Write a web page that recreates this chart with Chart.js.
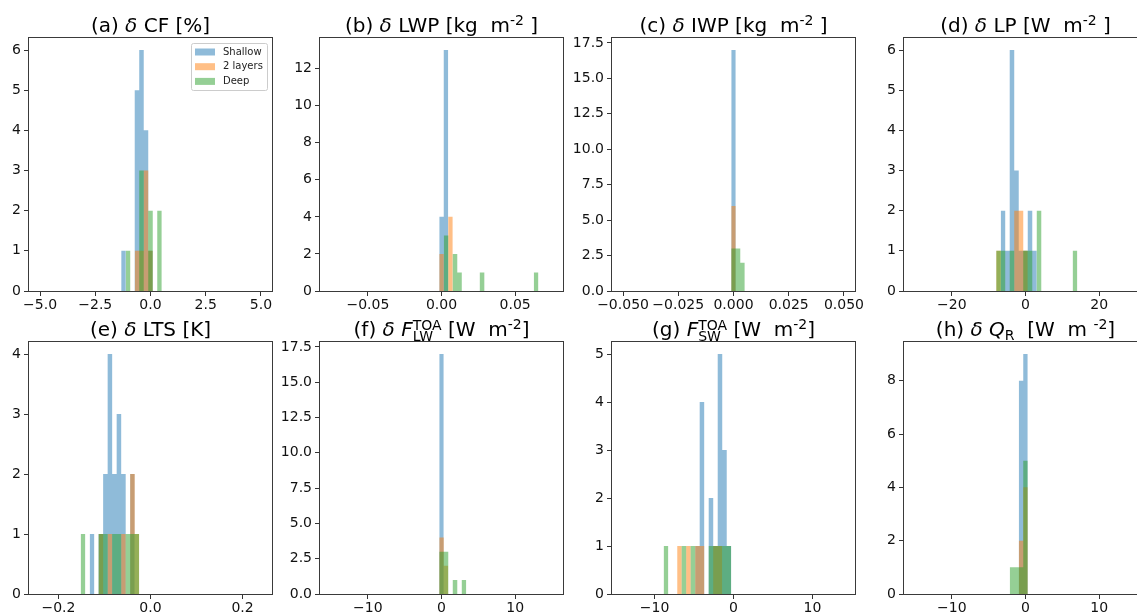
<!DOCTYPE html>
<html>
<head>
<meta charset="utf-8">
<script src="https://cdn.jsdelivr.net/npm/chart.js@4.4.1/dist/chart.umd.min.js"></script>
<style>
html, body { margin: 0; padding: 0; background: #fff; overflow: hidden; }
body { width: 1137px; height: 615px; position: relative; }
canvas { position: absolute; }
</style>
</head>
<body>
<script>
const seriesNames = ['Shallow', '2 layers', 'Deep'];

// (a) dCF, bin left edges + counts
const cfBinWidth = 0.204;
const cfShallowLefts = [-1.327, -0.714, -0.510, -0.306, -0.102];
const cfShallowCounts = [1, 5, 6, 4, 1];
const cfTwoLayerLefts = [-0.714, -0.510, -0.306, -0.102];
const cfTwoLayerCounts = [1, 1, 3, 1];
const cfDeepLefts = [-1.122, -0.510, -0.102, 0.306];
const cfDeepCounts = [1, 3, 2, 2];
const cfTicks = [-5, -2.5, 0, 2.5, 5];
const cfTickLabels = ['−5.0', '−2.5', '0.0', '2.5', '5.0'];

// (b) dLWP
const lwpBinWidth = 0.00306;
const lwpShallowLefts = [-0.00153, 0.00153];
const lwpShallowCounts = [4, 13];
const lwpTwoLayerLefts = [-0.00153, 0.00459];
const lwpTwoLayerCounts = [2, 4];
const lwpDeepLefts = [0.00153, 0.00765, 0.01071, 0.02602, 0.06276];
const lwpDeepCounts = [3, 2, 1, 1, 1];
const lwpTicks = [-0.05, 0, 0.05];
const lwpTickLabels = ['−0.05', '0.00', '0.05'];

// (c) dIWP
const iwpBinWidth = 0.00204;
const iwpShallowLefts = [-0.00102];
const iwpShallowCounts = [17];
const iwpTwoLayerLefts = [-0.00102];
const iwpTwoLayerCounts = [6];
const iwpDeepLefts = [-0.00102, 0.00102, 0.00306];
const iwpDeepCounts = [3, 3, 2];
const iwpTicks = [-0.05, -0.025, 0, 0.025, 0.05];
const iwpTickLabels = ['−0.050', '−0.025', '0.000', '0.025', '0.050'];

// (d) dLP
const lpBinWidth = 1.2245;
const lpShallowLefts = [-6.735, -5.510, -4.286, -3.061, -1.837, -0.612, 0.612, 1.837];
const lpShallowCounts = [2, 1, 6, 3, 1, 1, 2, 1];
const lpTwoLayerLefts = [-7.959, -3.061, -1.837, -0.612];
const lpTwoLayerCounts = [1, 2, 2, 1];
const lpDeepLefts = [-7.959, -6.735, -4.286, -0.612, 0.612, 3.061, 12.857];
const lpDeepCounts = [1, 1, 1, 1, 1, 2, 1];
const lpTicks = [-20, 0, 20];
const lpTickLabels = ['−20', '0', '20'];

// (e) dLTS
const ltsBinWidth = 0.0098;
const ltsShallowLefts = [-0.1322, -0.1127, -0.1029, -0.0931, -0.0833, -0.0735, -0.0637, -0.0441];
const ltsShallowCounts = [1, 1, 2, 4, 2, 3, 2, 2];
const ltsTwoLayerLefts = [-0.1127, -0.0931, -0.0637, -0.0441, -0.0343];
const ltsTwoLayerCounts = [1, 1, 1, 2, 1];
const ltsDeepLefts = [-0.1518, -0.1127, -0.1029, -0.0833, -0.0735, -0.0539, -0.0441, -0.0343];
const ltsDeepCounts = [1, 1, 1, 1, 1, 1, 1, 1];
const ltsTicks = [-0.2, 0, 0.2];
const ltsTickLabels = ['−0.2', '0.0', '0.2'];

// (f) dF_LW TOA
const lwBinWidth = 0.612;
const lwShallowLefts = [-0.306];
const lwShallowCounts = [17];
const lwTwoLayerLefts = [-0.306, 0.306];
const lwTwoLayerCounts = [4, 2];
const lwDeepLefts = [-0.306, 0.306, 1.531, 2.755];
const lwDeepCounts = [3, 3, 1, 1];
const lwTicks = [-10, 0, 10];
const lwTickLabels = ['−10', '0', '10'];

// (g) F_SW TOA
const swBinWidth = 0.5714;
const swShallowLefts = [-4.857, -4.286, -3.143, -2.571, -2.0, -1.429, -0.857];
const swShallowCounts = [1, 4, 2, 1, 5, 3, 1];
const swTwoLayerLefts = [-7.143, -6.0, -4.857, -4.286, -2.571, -2.0];
const swTwoLayerCounts = [1, 1, 1, 1, 1, 1];
const swDeepLefts = [-8.857, -6.571, -5.429, -3.143, -2.571, -2.0, -1.429, -0.857];
const swDeepCounts = [1, 1, 1, 1, 1, 1, 1, 1];
const swTicks = [-10, 0, 10];
const swTickLabels = ['−10', '0', '10'];

// (h) dQ_R
const qrBinWidth = 0.612;
const qrShallowLefts = [-0.918, -0.306];
const qrShallowCounts = [8, 9];
const qrTwoLayerLefts = [-0.918, -0.306];
const qrTwoLayerCounts = [2, 4];
const qrDeepLefts = [-2.143, -1.531, -0.918, -0.306];
const qrDeepCounts = [1, 1, 1, 5];
const qrTicks = [-10, 0, 10];
const qrTickLabels = ['−10', '0', '10'];

// count axes
const countTicks4 = [0, 1, 2, 3, 4];
const countTicks5 = [0, 1, 2, 3, 4, 5];
const countTicks6 = [0, 1, 2, 3, 4, 5, 6];
const countTicks8 = [0, 2, 4, 6, 8];
const countTicks12 = [0, 2, 4, 6, 8, 10, 12];
const countTicks17 = [0, 2.5, 5, 7.5, 10, 12.5, 15, 17.5];
const countLabels17 = ['0.0', '2.5', '5.0', '7.5', '10.0', '12.5', '15.0', '17.5'];

const seriesColors = ['rgba(31,119,180,0.5)', 'rgba(255,127,14,0.5)', 'rgba(44,160,44,0.5)'];
const FONT = '"DejaVu Sans"';
const colLefts = [29, 320, 612, 904];
const rowTops = [38, 342];
const rowHeights = [253, 252];
const plotWidth = 243;
const yAxisW = 50, xAxisH = 25, padTop = 38, padRight = 20, padBottom = 2;

const panels = [
  { row: 0, col: 0, legend: true,
    title: [['n', '(a) '], ['i', 'δ'], ['n', ' CF [%]']],
    width: cfBinWidth, lefts: [cfShallowLefts, cfTwoLayerLefts, cfDeepLefts], counts: [cfShallowCounts, cfTwoLayerCounts, cfDeepCounts],
    xMin: -5.5, xMax: 5.5, xTicks: cfTicks, xLabels: cfTickLabels, yMax: 6.3, yTicks: countTicks6 },
  { row: 0, col: 1,
    title: [['n', '(b) '], ['i', 'δ'], ['n', ' LWP [kg  m'], ['sup', '-2'], ['n', ' ]']],
    width: lwpBinWidth, lefts: [lwpShallowLefts, lwpTwoLayerLefts, lwpDeepLefts], counts: [lwpShallowCounts, lwpTwoLayerCounts, lwpDeepCounts],
    xMin: -0.0825, xMax: 0.0825, xTicks: lwpTicks, xLabels: lwpTickLabels, yMax: 13.65, yTicks: countTicks12 },
  { row: 0, col: 2,
    title: [['n', '(c) '], ['i', 'δ'], ['n', ' IWP [kg  m'], ['sup', '-2'], ['n', ' ]']],
    width: iwpBinWidth, lefts: [iwpShallowLefts, iwpTwoLayerLefts, iwpDeepLefts], counts: [iwpShallowCounts, iwpTwoLayerCounts, iwpDeepCounts],
    xMin: -0.055, xMax: 0.055, xTicks: iwpTicks, xLabels: iwpTickLabels, yMax: 17.85, yTicks: countTicks17, yLabels: countLabels17 },
  { row: 0, col: 3,
    title: [['n', '(d) '], ['i', 'δ'], ['n', ' LP [W  m'], ['sup', '-2'], ['n', ' ]']],
    width: lpBinWidth, lefts: [lpShallowLefts, lpTwoLayerLefts, lpDeepLefts], counts: [lpShallowCounts, lpTwoLayerCounts, lpDeepCounts],
    xMin: -33, xMax: 33, xTicks: lpTicks, xLabels: lpTickLabels, yMax: 6.3, yTicks: countTicks6 },
  { row: 1, col: 0,
    title: [['n', '(e) '], ['i', 'δ'], ['n', ' LTS [K]']],
    width: ltsBinWidth, lefts: [ltsShallowLefts, ltsTwoLayerLefts, ltsDeepLefts], counts: [ltsShallowCounts, ltsTwoLayerCounts, ltsDeepCounts],
    xMin: -0.264, xMax: 0.264, xTicks: ltsTicks, xLabels: ltsTickLabels, yMax: 4.2, yTicks: countTicks4 },
  { row: 1, col: 1,
    title: [['n', '(f) '], ['i', 'δ'], ['n', ' '], ['i', 'F'], ['ss', 'TOA', 'LW'], ['n', ' [W  m'], ['sup', '-2'], ['n', ']']],
    width: lwBinWidth, lefts: [lwShallowLefts, lwTwoLayerLefts, lwDeepLefts], counts: [lwShallowCounts, lwTwoLayerCounts, lwDeepCounts],
    xMin: -16.5, xMax: 16.5, xTicks: lwTicks, xLabels: lwTickLabels, yMax: 17.85, yTicks: countTicks17, yLabels: countLabels17 },
  { row: 1, col: 2,
    title: [['n', '(g) '], ['i', 'F'], ['ss', 'TOA', 'SW'], ['n', ' [W  m'], ['sup', '-2'], ['n', ']']],
    width: swBinWidth, lefts: [swShallowLefts, swTwoLayerLefts, swDeepLefts], counts: [swShallowCounts, swTwoLayerCounts, swDeepCounts],
    xMin: -15.4, xMax: 15.4, xTicks: swTicks, xLabels: swTickLabels, yMax: 5.25, yTicks: countTicks5 },
  { row: 1, col: 3,
    title: [['n', '(h) '], ['i', 'δ'], ['n', ' '], ['i', 'Q'], ['sub', 'R'], ['n', '  [W  m '], ['sup', '-2'], ['n', ']']],
    width: qrBinWidth, lefts: [qrShallowLefts, qrTwoLayerLefts, qrDeepLefts], counts: [qrShallowCounts, qrTwoLayerCounts, qrDeepCounts],
    xMin: -16.5, xMax: 16.5, xTicks: qrTicks, xLabels: qrTickLabels, yMax: 9.45, yTicks: countTicks8 }
];

// histogram outline as stepped points: (left, count) then (right, 0)
function histPoints(lefts, counts, width) {
  const pts = [];
  lefts.forEach((x0, i) => {
    pts.push({ x: x0, y: counts[i] });
    pts.push({ x: x0 + width, y: 0 });
  });
  return pts;
}

function segFont(kind) {
  if (kind === 'i') return 'italic 20px ' + FONT;
  if (kind === 'sup' || kind === 'sub' || kind === 'ss') return '14px ' + FONT;
  return '20px ' + FONT;
}

function drawTitle(ctx, segs, cx, baseline) {
  ctx.save();
  ctx.textBaseline = 'alphabetic';
  ctx.textAlign = 'left';
  ctx.fillStyle = '#000';
  const widths = segs.map(s => {
    ctx.font = segFont(s[0]);
    if (s[0] === 'ss') return Math.max(ctx.measureText(s[1]).width, ctx.measureText(s[2]).width);
    return ctx.measureText(s[1]).width;
  });
  let x = cx - widths.reduce((a, b) => a + b, 0) / 2;
  segs.forEach((s, i) => {
    ctx.font = segFont(s[0]);
    if (s[0] === 'sup') ctx.fillText(s[1], x, baseline - 7);
    else if (s[0] === 'sub') ctx.fillText(s[1], x, baseline + 4);
    else if (s[0] === 'ss') {
      ctx.fillText(s[1], x, baseline - 6);
      ctx.fillText(s[2], x, baseline + 5);
    } else ctx.fillText(s[1], x, baseline);
    x += widths[i];
  });
  ctx.restore();
}

const framePlugin = {
  id: 'frame',
  afterDatasetsDraw(chart) {
    const a = chart.chartArea, ctx = chart.ctx;
    ctx.save();
    ctx.strokeStyle = '#3a3a3a';
    ctx.lineWidth = 1;
    ctx.strokeRect(a.left - 0.5, a.top - 0.5, a.right - a.left + 1, a.bottom - a.top + 1);
    ctx.restore();
  }
};

const titlePlugin = {
  id: 'mathTitle',
  afterDraw(chart, args, opts) {
    const a = chart.chartArea;
    drawTitle(chart.ctx, opts.segs, (a.left + a.right) / 2, a.top - 6);
  }
};

const legendPlugin = {
  id: 'boxLegend',
  afterDraw(chart, args, opts) {
    if (!opts.show) return;
    const a = chart.chartArea, ctx = chart.ctx;
    const bx = a.right - 81, by = a.top + 5, bw = 76, bh = 47;
    ctx.save();
    ctx.fillStyle = 'rgba(255,255,255,0.8)';
    ctx.strokeStyle = '#cccccc';
    ctx.lineWidth = 1;
    ctx.beginPath();
    ctx.roundRect(bx + 0.5, by + 0.5, bw, bh, 2);
    ctx.fill();
    ctx.stroke();
    ctx.font = '10px ' + FONT;
    ctx.textBaseline = 'middle';
    seriesNames.forEach((name, i) => {
      const cy = by + 9 + i * 14.7;
      ctx.fillStyle = seriesColors[i];
      ctx.fillRect(bx + 4, cy - 3.5, 20, 7);
      ctx.fillStyle = '#222';
      ctx.fillText(name, bx + 32, cy);
    });
    ctx.restore();
  }
};

panels.forEach(p => {
  const canvas = document.createElement('canvas');
  const w = yAxisW + plotWidth + padRight;
  const h = padTop + rowHeights[p.row] + xAxisH + padBottom;
  canvas.width = w;
  canvas.height = h;
  canvas.style.left = (colLefts[p.col] - yAxisW) + 'px';
  canvas.style.top = (rowTops[p.row] - padTop) + 'px';
  document.body.appendChild(canvas);

  const tickFont = { family: FONT, size: 14 };
  const yLabels = p.yLabels || p.yTicks.map(String);

  new Chart(canvas, {
    type: 'line',
    data: {
      datasets: seriesNames.map((name, s) => ({
        label: name,
        data: histPoints(p.lefts[s], p.counts[s], p.width),
        stepped: 'before',
        fill: 'origin',
        backgroundColor: seriesColors[s],
        borderColor: 'rgba(0,0,0,0)',
        borderWidth: 0,
        pointRadius: 0,
        order: 2 - s
      }))
    },
    options: {
      responsive: false,
      animation: false,
      devicePixelRatio: 1,
      layout: { padding: { left: 0, top: padTop, right: padRight, bottom: padBottom } },
      plugins: {
        legend: { display: false },
        tooltip: { enabled: false },
        title: { display: false },
        mathTitle: { segs: p.title },
        boxLegend: { show: !!p.legend }
      },
      scales: {
        x: {
          type: 'linear',
          min: p.xMin,
          max: p.xMax,
          border: { display: false },
          grid: { display: true, drawOnChartArea: false, drawTicks: true, tickLength: 5, color: '#333' },
          ticks: {
            font: tickFont, color: '#111', padding: 1, autoSkip: false, maxRotation: 0,
            callback: (v, i) => p.xLabels[i]
          },
          afterBuildTicks: sc => { sc.ticks = p.xTicks.map(v => ({ value: v })); },
          afterFit: sc => { sc.height = xAxisH; }
        },
        y: {
          min: 0,
          max: p.yMax,
          border: { display: false },
          grid: { display: true, drawOnChartArea: false, drawTicks: true, tickLength: 5, color: '#333' },
          ticks: {
            font: tickFont, color: '#111', padding: 3, autoSkip: false,
            callback: (v, i) => yLabels[i]
          },
          afterBuildTicks: sc => { sc.ticks = p.yTicks.map(v => ({ value: v })); },
          afterFit: sc => { sc.width = yAxisW; }
        }
      }
    },
    plugins: [framePlugin, titlePlugin, legendPlugin]
  });
});
</script>
</body>
</html>
